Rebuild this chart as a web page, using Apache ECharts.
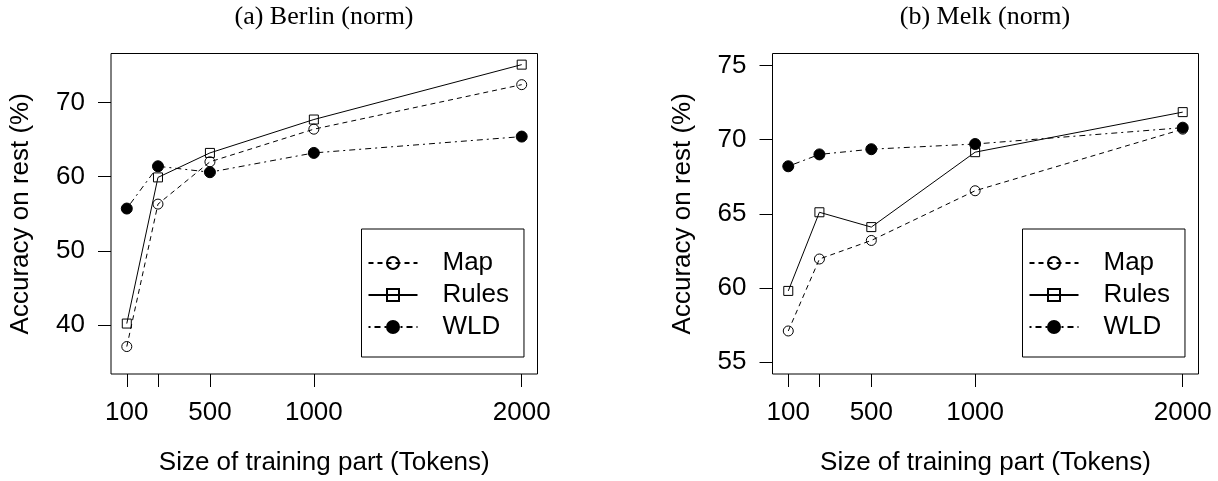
<!DOCTYPE html>
<html>
<head>
<meta charset="utf-8">
<script src="https://cdn.jsdelivr.net/npm/echarts@6/dist/echarts.min.js"></script>
<style>
  html, body { margin: 0; padding: 0; background: #fff; }
  #chart { width: 1218px; height: 481px; }
</style>
</head>
<body>
<div id="chart"></div>
<script>
// training sizes (tokens)
var sizes = [100, 250, 500, 1000, 2000];
var xTicks = [100, 250, 500, 1000, 2000];
var xLabels = [100, 500, 1000, 2000];

// (a) Berlin
var berlinMap   = [37.1, 56.3, 62.0, 66.4, 72.4];
var berlinRules = [40.2, 59.9, 63.2, 67.7, 75.1];
var berlinWLD   = [55.7, 61.4, 60.6, 63.2, 65.4];
var berlinTicks = [40, 50, 60, 70];

// (b) Melk
var melkMap   = [57.1, 61.95, 63.2, 66.55, 70.7];
var melkRules = [59.8, 65.1, 64.1, 69.15, 71.85];
var melkWLD   = [68.2, 69.0, 69.35, 69.7, 70.8];
var melkTicks = [55, 60, 65, 70, 75];

var FONT = '"Liberation Sans", Arial, sans-serif';

function pairs(vals) {
  return sizes.map(function (s, i) { return [s, vals[i]]; });
}

function xAxis(idx) {
  return {
    type: 'value', gridIndex: idx, min: 24, max: 2076,
    name: 'Size of training part (Tokens)', nameLocation: 'middle', nameGap: 76,
    nameTextStyle: { fontFamily: FONT, fontSize: 26, color: '#000' },
    axisLine: { show: false },
    axisTick: { show: true, inside: false, length: 13, customValues: xTicks, lineStyle: { color: '#000', width: 1 } },
    axisLabel: { customValues: xLabels, margin: 26, fontFamily: FONT, fontSize: 26, color: '#000',
      formatter: function (v) { return String(v); } },
    splitLine: { show: false }
  };
}

function yAxis(idx, lo, hi, ticks) {
  return {
    type: 'value', gridIndex: idx, min: lo, max: hi,
    name: 'Accuracy on rest (%)', nameLocation: 'middle', nameGap: 77, nameRotate: 90,
    nameTextStyle: { fontFamily: FONT, fontSize: 26, color: '#000' },
    axisLine: { show: false },
    axisTick: { show: true, inside: false, length: 13, customValues: ticks, lineStyle: { color: '#000', width: 1 } },
    axisLabel: { customValues: ticks, margin: 26, fontFamily: FONT, fontSize: 26, color: '#000',
      formatter: function (v) { return String(v); } },
    splitLine: { show: false }
  };
}

function lines(idx, mapVals, rulesVals, wldVals) {
  return [
    {
      name: 'Map', type: 'line', xAxisIndex: idx, yAxisIndex: idx, data: pairs(mapVals),
      symbol: 'circle', symbolSize: 10, z: 2,
      lineStyle: { color: '#000', width: 1, type: [5, 4] },
      itemStyle: { color: 'rgba(0,0,0,0)', borderColor: '#000', borderWidth: 1 }
    },
    {
      name: 'Rules', type: 'line', xAxisIndex: idx, yAxisIndex: idx, data: pairs(rulesVals),
      symbol: 'rect', symbolSize: 9, z: 3,
      lineStyle: { color: '#000', width: 1, type: 'solid' },
      itemStyle: { color: 'rgba(0,0,0,0)', borderColor: '#000', borderWidth: 1 }
    },
    {
      name: 'WLD', type: 'line', xAxisIndex: idx, yAxisIndex: idx, data: pairs(wldVals),
      symbol: 'circle', symbolSize: 11, z: 4,
      lineStyle: { color: '#000', width: 1, type: [2, 4, 6, 4] },
      itemStyle: { color: '#000', borderColor: '#000', borderWidth: 1 }
    }
  ];
}

function legend(left) {
  return {
    orient: 'vertical', left: left, top: 229,
    data: ['Map', 'Rules', 'WLD'],
    itemWidth: 49, itemHeight: 15, itemGap: 6,
    padding: [21, 15, 17, 6],
    borderColor: '#000', borderWidth: 1, borderRadius: 0,
    selectedMode: false,
    textStyle: { fontFamily: FONT, fontSize: 26, color: '#000', padding: [0, 0, 0, 20], lineHeight: 26 }
  };
}

var chart = echarts.init(document.getElementById('chart'), null, { renderer: 'canvas' });
chart.setOption({
  animation: false,
  backgroundColor: '#fff',
  title: [
    { text: '(a) Berlin (norm)', left: 324, top: 4, textAlign: 'center', padding: 0,
      textStyle: { fontFamily: '"Liberation Serif", "Times New Roman", serif', fontSize: 26, fontWeight: 'normal', color: '#000' } },
    { text: '(b) Melk (norm)', left: 985, top: 4, textAlign: 'center', padding: 0,
      textStyle: { fontFamily: '"Liberation Serif", "Times New Roman", serif', fontSize: 26, fontWeight: 'normal', color: '#000' } }
  ],
  grid: [
    { left: 111, top: 53.5, width: 426.5, height: 321.5, show: true, borderColor: '#000', borderWidth: 1, backgroundColor: 'transparent', containLabel: false },
    { left: 772.5, top: 53.5, width: 426, height: 321.5, show: true, borderColor: '#000', borderWidth: 1, backgroundColor: 'transparent', containLabel: false }
  ],
  legend: [legend(361.5), legend(1022.5)],
  xAxis: [xAxis(0), xAxis(1)],
  yAxis: [yAxis(0, 33.4, 76.6, berlinTicks), yAxis(1, 54.2, 75.8, melkTicks)],
  series: lines(0, berlinMap, berlinRules, berlinWLD).concat(lines(1, melkMap, melkRules, melkWLD))
});
</script>
</body>
</html>
